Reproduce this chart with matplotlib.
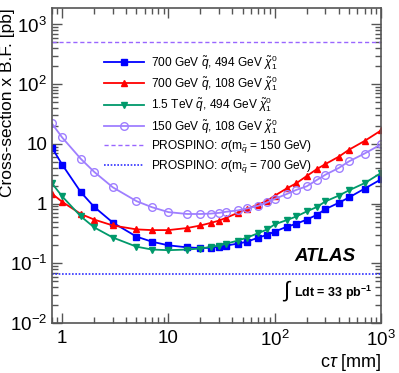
import matplotlib
matplotlib.use("Agg")
import matplotlib.pyplot as plt
from matplotlib.ticker import FixedLocator, LogLocator, NullFormatter, FuncFormatter
import numpy as np

plt.rcParams['font.family'] = ['Liberation Sans', 'DejaVu Sans']
plt.rcParams['mathtext.fontset'] = 'custom'
plt.rcParams['mathtext.rm'] = 'Liberation Sans'
plt.rcParams['mathtext.it'] = 'Liberation Sans:italic'
plt.rcParams['mathtext.bf'] = 'Liberation Sans:bold'

# c*tau values [mm]
ctau = [0.8, 1, 1.5, 2, 3, 5, 7, 10, 15, 20, 25, 30, 35, 45, 55, 70, 85,
        100, 130, 160, 200, 250, 300, 400, 500, 700, 1000]

# cross-section x B.F. [pb]
xs_700_494 = [8.7, 4.5, 1.55, 0.88, 0.48, 0.28, 0.23, 0.20, 0.185, 0.18, 0.182,
              0.19, 0.198, 0.214, 0.23, 0.27, 0.30, 0.34, 0.41, 0.46, 0.54,
              0.65, 0.81, 1.03, 1.27, 1.78, 2.55]
xs_700_108 = [1.47, 1.07, 0.67, 0.54, 0.43, 0.37, 0.36, 0.36, 0.39, 0.43, 0.475,
              0.52, 0.58, 0.70, 0.82, 0.96, 1.12, 1.36, 1.8, 2.2, 2.9, 3.8,
              4.6, 6.1, 8.0, 11.2, 16.8]
xs_1500_494 = [2.2, 1.32, 0.61, 0.40, 0.27, 0.19, 0.17, 0.166, 0.17, 0.177, 0.188,
               0.198, 0.214, 0.24, 0.27, 0.32, 0.37, 0.45, 0.53, 0.61, 0.74,
               0.88, 1.09, 1.36, 1.67, 2.2, 3.26]
xs_150_108 = [22, 12.8, 5.6, 3.4, 1.87, 1.1, 0.87, 0.72, 0.67, 0.67, 0.68,
              0.70, 0.73, 0.77, 0.83, 0.92, 1.05, 1.2, 1.45, 1.7, 1.95,
              2.5, 3.05, 3.95, 5.1, 6.9, 9.8]

prospino_150 = 510.0
prospino_700 = 0.067

fig = plt.figure(figsize=(3.99, 3.73), dpi=100)
ax = fig.add_axes([0.130, 0.134, 0.825, 0.845])

ax.plot(ctau, xs_700_494, '-s', color='#0000ff', ms=5, lw=1.3,
        label=r'700 GeV $\tilde{q}$, 494 GeV $\tilde{\chi}_1^0$')
ax.plot(ctau, xs_700_108, '-^', color='#ff0000', ms=5, lw=1.3,
        label=r'700 GeV $\tilde{q}$, 108 GeV $\tilde{\chi}_1^0$')
ax.plot(ctau, xs_1500_494, '-v', color='#00996b', ms=5, lw=1.3,
        label=r'1.5 TeV $\tilde{q}$, 494 GeV $\tilde{\chi}_1^0$')
ax.plot(ctau, xs_150_108, '-o', color='#9f7fff', ms=5.5, lw=1.3, mfc='none',
        mew=1.0, label=r'150 GeV $\tilde{q}$, 108 GeV $\tilde{\chi}_1^0$')
ax.axhline(prospino_150, color='#9966ff', ls=(0, (3, 2)), lw=1.0,
           label=r'PROSPINO: $\sigma$(m$_{\tilde{q}}$ = 150 GeV)')
ax.axhline(prospino_700, color='#3030ff', ls=(0, (1, 1)), lw=1.2,
           label=r'PROSPINO: $\sigma$(m$_{\tilde{q}}$ = 700 GeV)')

ax.set_xscale('log')
ax.set_yscale('log')
ax.set_xlim(0.8, 1000)
ax.set_ylim(0.01, 1900)


def fmt(v, pos):
    e = int(round(np.log10(v)))
    if e == 0:
        return '1'
    if e == 1:
        return '10'
    return r'$\mathregular{10^{%d}}$' % e


ax.xaxis.set_major_locator(FixedLocator([1, 10, 100, 1000]))
ax.yaxis.set_major_locator(FixedLocator([0.01, 0.1, 1, 10, 100, 1000]))
ax.xaxis.set_major_formatter(FuncFormatter(fmt))
ax.yaxis.set_major_formatter(FuncFormatter(fmt))
ax.xaxis.set_minor_locator(LogLocator(subs=np.arange(2, 10)))
ax.yaxis.set_minor_locator(LogLocator(subs=np.arange(2, 10)))
ax.xaxis.set_minor_formatter(NullFormatter())
ax.yaxis.set_minor_formatter(NullFormatter())

frame = '#555555'
for s in ax.spines.values():
    s.set_color(frame)
    s.set_linewidth(1.2)
ax.tick_params(which='both', direction='in', top=True, right=True,
               color=frame, labelsize=13.5)
ax.tick_params(which='major', length=7, width=1.0)
ax.tick_params(which='minor', length=4, width=1.0)
ax.tick_params(axis='x', pad=5)

ax.set_ylabel('Cross-section x B.F. [pb]', fontsize=12.5, loc='top')
ax.yaxis.set_label_coords(-0.112, 1.0)
ax.set_xlabel(r'c$\tau$ [mm]', fontsize=13, loc='right')
ax.xaxis.set_label_coords(1.0, -0.092)

leg = ax.legend(loc='upper left', bbox_to_anchor=(0.145, 0.872), frameon=False,
                fontsize=8.6, handlelength=3.3, handletextpad=0.6,
                labelspacing=0.22, borderaxespad=0)

ax.text(0.921, 0.21, 'ATLAS', transform=ax.transAxes, ha='right', va='center',
        fontsize=13.5, fontweight='bold', style='italic')
ax.text(0.70, 0.10, r'$\int$', transform=ax.transAxes, ha='left',
        va='center', fontsize=16)
ax.text(0.735, 0.095, r'Ldt = 33 pb$^{\mathbf{-1}}$', transform=ax.transAxes,
        ha='left', va='center', fontsize=9, fontweight='bold')

fig.savefig('out.png', dpi=100)
